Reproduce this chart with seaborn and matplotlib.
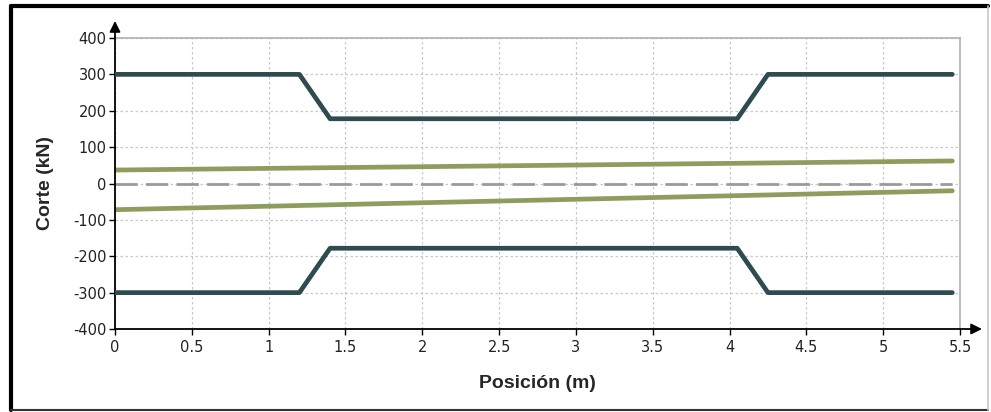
import matplotlib
matplotlib.use("Agg")
import matplotlib.pyplot as plt
import seaborn as sns
from matplotlib.lines import Line2D

sns.set_theme(style="white")
plt.rcParams["font.family"] = ["Liberation Sans", "DejaVu Sans"]
plt.rcParams["axes.unicode_minus"] = False

# Shear envelope (kN) along the beam (m)
env_x = [0.0, 1.2, 1.4, 4.05, 4.25, 5.45]
env_upper = [300, 300, 178, 178, 300, 300]
env_lower = [-300, -300, -178, -178, -300, -300]

# Design shear lines
shear_x = [0.0, 5.45]
shear_upper = [37, 62]
shear_lower = [-72, -20]

zero_x = [0.0, 5.45]
zero_y = [0, 0]

x_ticks = [0, 0.5, 1, 1.5, 2, 2.5, 3, 3.5, 4, 4.5, 5, 5.5]
x_tick_labels = ["0", "0.5", "1", "1.5", "2", "2.5", "3", "3.5", "4", "4.5", "5", "5.5"]
y_ticks = [-400, -300, -200, -100, 0, 100, 200, 300, 400]

dark = "#2e4b50"
green = "#8d9d5e"

fig = plt.figure(figsize=(9.91, 4.12), dpi=100)
ax = fig.add_axes([115 / 991, 1 - 329 / 412, 845 / 991, 291 / 412])

sns.lineplot(x=zero_x, y=zero_y, ax=ax, color="#9a9a9a", lw=2.0,
             linestyle=(0, (8, 3)), zorder=2)
for ys in (shear_upper, shear_lower):
    sns.lineplot(x=shear_x, y=ys, ax=ax, color=green, lw=3.4,
                 estimator=None, sort=False, zorder=3)
for ys in (env_upper, env_lower):
    sns.lineplot(x=env_x, y=ys, ax=ax, color=dark, lw=3.4,
                 estimator=None, sort=False, zorder=4)

ax.set_xlim(0, 5.5)
ax.set_ylim(-400, 400)
ax.set_xticks(x_ticks)
ax.set_xticklabels(x_tick_labels)
ax.set_yticks(y_ticks)

ax.grid(True, color="#c8c8c8", linestyle=(0, (2, 2)), linewidth=0.9)
ax.set_axisbelow(True)

for side in ("left", "bottom"):
    ax.spines[side].set_visible(False)
for side in ("top", "right"):
    ax.spines[side].set_visible(True)
    ax.spines[side].set_color("#b0b0b0")
    ax.spines[side].set_linewidth(1.2)

ax.tick_params(axis="both", which="both", direction="out", length=4,
               width=1, color="black", labelsize=10.5, labelcolor="#222222",
               left=True, bottom=True)
ax.tick_params(axis="x", pad=4)
ax.tick_params(axis="y", pad=2)
for lab in ax.get_xticklabels() + ax.get_yticklabels():
    lab.set_fontfamily("DejaVu Sans")

# Axis lines with arrow heads
ax.annotate("", xy=(1 + 22 / 845, 0), xytext=(0, 0), xycoords="axes fraction",
            arrowprops=dict(arrowstyle="-|>", color="black", lw=1.3,
                            mutation_scale=16, shrinkA=0, shrinkB=0),
            annotation_clip=False)
ax.annotate("", xy=(0, 1 + 17 / 291), xytext=(0, 0), xycoords="axes fraction",
            arrowprops=dict(arrowstyle="-|>", color="black", lw=1.3,
                            mutation_scale=16, shrinkA=0, shrinkB=0),
            annotation_clip=False)

ax.set_xlabel("Posición (m)", fontsize=14, fontweight="bold", labelpad=14)
ax.set_ylabel("Corte (kN)", fontsize=14, fontweight="bold", labelpad=14)

# Sunken frame around the figure
fig.add_artist(Line2D([11 / 991, 988 / 991], [1 - 6 / 412, 1 - 6 / 412],
                      transform=fig.transFigure, color="black", lw=3))
fig.add_artist(Line2D([11 / 991, 11 / 991], [1 - 6 / 412, 1 - 410 / 412],
                      transform=fig.transFigure, color="black", lw=3))
fig.add_artist(Line2D([11 / 991, 988 / 991], [1 - 409.5 / 412, 1 - 409.5 / 412],
                      transform=fig.transFigure, color="#333333", lw=1.5))
fig.add_artist(Line2D([988 / 991, 988 / 991], [1 - 6 / 412, 1 - 410 / 412],
                      transform=fig.transFigure, color="#c8c8c8", lw=1.2))

fig.savefig("out.png", dpi=100)
